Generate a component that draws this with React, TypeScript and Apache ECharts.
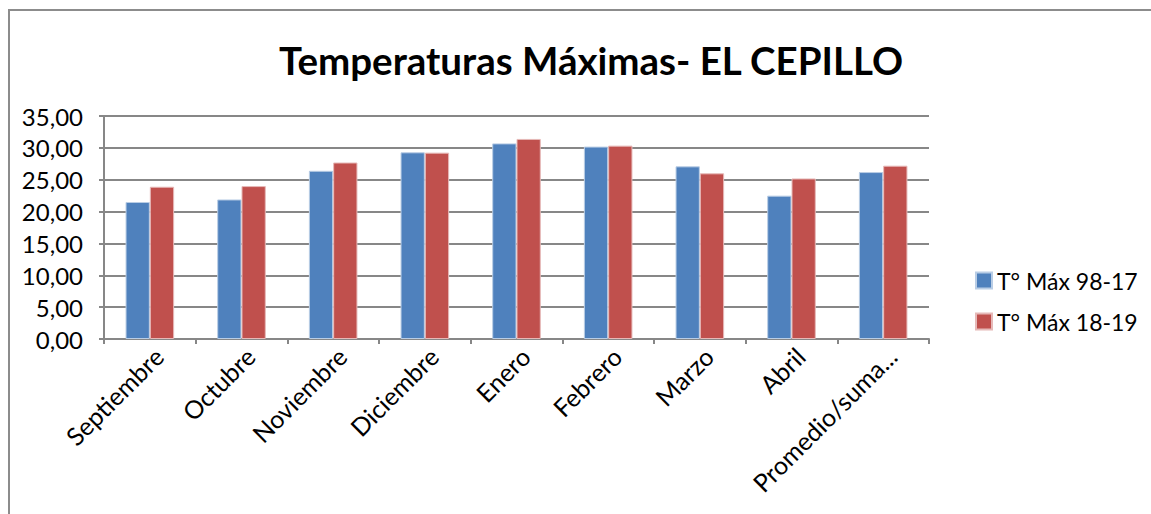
import React, { useEffect, useRef } from "react";
import * as echarts from "echarts";

const categories = ["Septiembre", "Octubre", "Noviembre", "Diciembre", "Enero", "Febrero", "Marzo", "Abril", "Promedio/suma..."];
const seriesNames = ["T° Máx 98-17", "T° Máx 18-19"];
const tmax9817 = [21.5, 21.9, 26.4, 29.3, 30.7, 30.2, 27.1, 22.5, 26.2];
const tmax1819 = [23.9, 24.0, 27.7, 29.25, 31.4, 30.35, 26.0, 25.2, 27.2];
const yTicks = { min: 0, max: 35, interval: 5 };

const FONT = "Lato";

export default function App() {
  const ref = useRef<HTMLDivElement>(null);
  useEffect(() => {
    const chart = echarts.init(ref.current!, null, { renderer: "svg" });
    chart.setOption({
      animation: false,
      backgroundColor: "#ffffff",
      textStyle: { fontFamily: FONT },
      title: {
        text: "Temperaturas Máximas- EL CEPILLO",
        left: 586,
        top: 35,
        textAlign: "center",
        textStyle: { fontFamily: FONT, fontWeight: "bold", fontSize: 38.5, color: "#000" },
      },
      graphic: [
        {
          type: "rect",
          shape: { x: 9, y: 10, width: 1300, height: 700 },
          style: { fill: "none", stroke: "#8c8c8c", lineWidth: 2 },
          silent: true,
        },
      ],
      legend: {
        orient: "vertical",
        left: 970,
        top: 264,
        itemWidth: 16,
        itemHeight: 16,
        itemGap: 18,
        icon: "rect",
        textStyle: { fontFamily: FONT, fontSize: 23, color: "#000" },
        data: seriesNames,
      },
      grid: { left: 104, right: 222, top: 116, bottom: 175, containLabel: false },
      xAxis: {
        type: "category",
        data: categories,
        axisLine: { lineStyle: { color: "#878787", width: 2 } },
        axisTick: { show: true, length: 5, lineStyle: { color: "#878787", width: 2 } },
        axisLabel: {
          rotate: 45,
          interval: 0,
          margin: 4,
          verticalAlign: "top",
          fontFamily: FONT,
          fontSize: 25,
          color: "#000",
        },
      },
      yAxis: {
        type: "value",
        min: yTicks.min,
        max: yTicks.max,
        interval: yTicks.interval,
        axisLine: { show: true, lineStyle: { color: "#878787", width: 2 } },
        axisTick: { show: true, length: 5, lineStyle: { color: "#878787", width: 2 } },
        splitLine: { lineStyle: { color: "#878787", width: 2 } },
        axisLabel: {
          fontFamily: FONT,
          fontSize: 24,
          color: "#000",
          margin: 21,
          formatter: (v: number) => v.toFixed(2).replace(".", ","),
        },
      },
      series: [
        {
          name: seriesNames[0],
          type: "bar",
          data: tmax9817,
          barGap: "0%",
          barCategoryGap: "47%",
          itemStyle: { color: "#4F81BD", borderColor: "#B9CDE5", borderWidth: 1 },
        },
        {
          name: seriesNames[1],
          type: "bar",
          data: tmax1819,
          itemStyle: { color: "#C0504D", borderColor: "#E6B9B8", borderWidth: 1 },
        },
      ],
    });
    return () => chart.dispose();
  }, []);
  return <div ref={ref} style={{ position: "fixed", left: 0, top: 0, width: 1151, height: 514 }} />;
}
